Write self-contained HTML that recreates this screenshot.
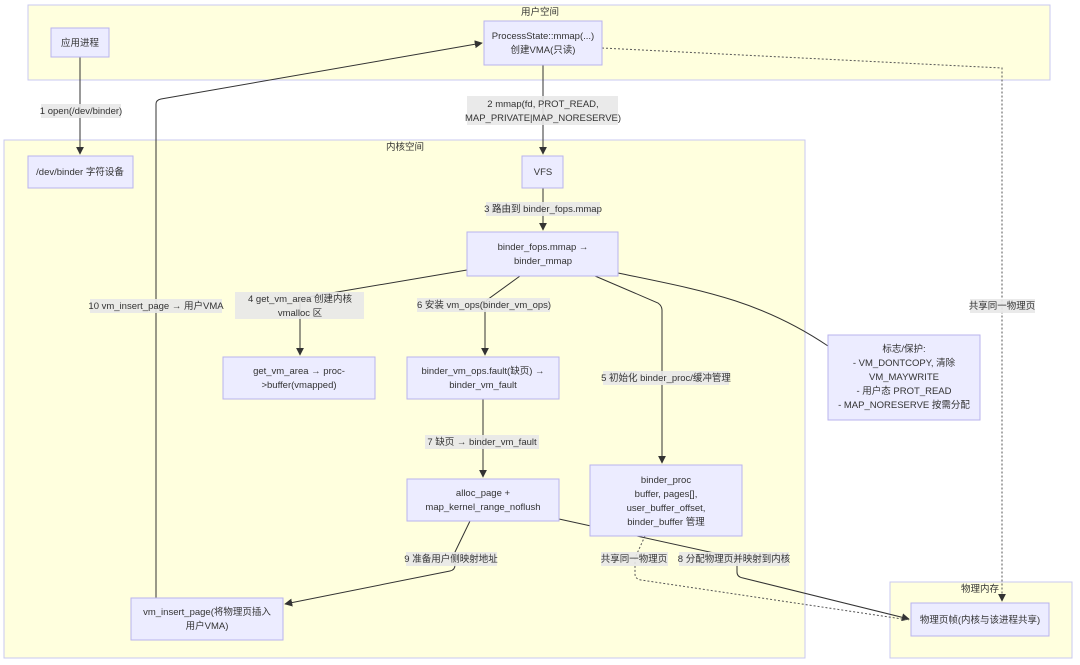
<!DOCTYPE html>
<html><head><meta charset="utf-8"><style>
html,body{margin:0;padding:0;background:#fff;}
svg{display:block;}
text{font-family:"Liberation Sans","Noto Sans CJK SC",sans-serif;font-size:9.5px;fill:#333;text-anchor:middle;}
.c{fill:#ffffde;stroke:#c9c9f0;stroke-width:1;}
.n{fill:#ececff;stroke:#b9b3ee;stroke-width:1;}
.e{fill:none;stroke:#333;stroke-width:1;}
.d{fill:none;stroke:#555;stroke-width:1;stroke-dasharray:2,2;}
.l{fill:#e8e8e8;opacity:0.9;}
</style></head><body>
<svg width="1080" height="665" viewBox="0 0 1080 665" xmlns="http://www.w3.org/2000/svg">
<defs><marker id="a" viewBox="0 0 10 10" refX="9" refY="5" markerWidth="8" markerHeight="8" orient="auto"><path d="M0,0L10,5L0,10z" fill="#333"/></marker></defs>
<!-- clusters -->
<rect class="c" x="28" y="5" width="1022" height="75"/>
<text x="540" y="15">用户空间</text>
<rect class="c" x="4" y="140" width="801" height="518"/>
<text x="405" y="150">内核空间</text>
<rect class="c" x="890" y="582" width="182" height="76"/>
<text x="980" y="592">物理内存</text>

<!-- edges -->
<path class="e" d="M80,57 L80,154" marker-end="url(#a)"/>
<path class="e" d="M543,65 L543,154" marker-end="url(#a)"/>
<path class="e" d="M543,188 L543,230" marker-end="url(#a)"/>
<path class="e" d="M467,270 L302,298 Q300,299 300,302 L300,355" marker-end="url(#a)"/>
<path class="e" d="M520,276 L487,300 L485,304 L485,355" marker-end="url(#a)"/>
<path class="e" d="M483,399 L483,477" marker-end="url(#a)"/>
<path class="e" d="M595,276 L658,303 Q662,306 662,310 L662,463" marker-end="url(#a)"/>
<path class="e" d="M618,273 C700,290 760,300 828,346"/>
<path class="e" d="M470,521 L455,552 L455,565 Q455,570 450,571 L285,604" marker-end="url(#a)"/>
<path class="e" d="M156,598 Q156,590 156,580 L156,104 Q156,100 161,99 L482,43" marker-end="url(#a)"/>
<path class="e" d="M559,519 L737,558 L737,572 Q737,577 743,578 L909,619" marker-end="url(#a)"/>
<path class="d" d="M645,536 L635,558 L635,574 Q635,579 641,580 L909,620"/>
<path class="d" d="M602,48 L1002,68 L1002,601" marker-end="url(#a)"/>

<!-- edge labels -->
<rect class="l" x="41" y="104" width="80" height="14"/><text x="81" y="114">1 open(/dev/binder)</text>
<rect class="l" x="467" y="96" width="151" height="29"/><text x="543" y="107">2 mmap(fd, PROT_READ,</text><text x="543" y="121">MAP_PRIVATE|MAP_NORESERVE)</text>
<rect class="l" x="486" y="202" width="114" height="14"/><text x="543" y="212">3 路由到 binder_fops.mmap</text>
<rect class="l" x="235" y="292" width="129" height="27"/><text x="300" y="302">4 get_vm_area 创建内核</text><text x="300" y="316">vmalloc 区</text>
<rect class="l" x="417" y="298" width="133" height="14"/><text x="484" y="308">6 安装 vm_ops(binder_vm_ops)</text>
<rect class="l" x="603" y="371" width="126" height="14"/><text x="666" y="381">5 初始化 binder_proc/缓冲管理</text>
<rect class="l" x="90" y="299" width="132" height="14"/><text x="156" y="309">10 vm_insert_page → 用户VMA</text>
<rect class="l" x="425" y="435" width="114" height="14"/><text x="482" y="445">7 缺页 → binder_vm_fault</text>
<rect class="l" x="406" y="552" width="91" height="14"/><text x="451" y="562">9 准备用户侧映射地址</text>
<rect class="l" x="601" y="552" width="67" height="14"/><text x="634" y="562">共享同一物理页</text>
<rect class="l" x="679" y="552" width="110" height="14"/><text x="734" y="562">8 分配物理页并映射到内核</text>
<rect class="l" x="970" y="299" width="65" height="14"/><text x="1002" y="309">共享同一物理页</text>

<!-- nodes -->
<rect class="n" x="51" y="28" width="58" height="29"/><text x="80" y="46">应用进程</text>
<rect class="n" x="484" y="21" width="118" height="44"/><text x="543" y="39">ProcessState::mmap(...)</text><text x="543" y="53">创建VMA(只读)</text>
<rect class="n" x="28" y="156" width="105" height="32"/><text x="80" y="175">/dev/binder 字符设备</text>
<rect class="n" x="522" y="156" width="41" height="32"/><text x="543" y="175">VFS</text>
<rect class="n" x="467" y="232" width="151" height="44"/><text x="543" y="250">binder_fops.mmap →</text><text x="543" y="264">binder_mmap</text>
<rect class="n" x="223" y="357" width="152" height="42"/><text x="299" y="374">get_vm_area → proc-</text><text x="299" y="388">&gt;buffer(vmapped)</text>
<rect class="n" x="407" y="357" width="152" height="42"/><text x="483" y="374">binder_vm_ops.fault(缺页) →</text><text x="483" y="388">binder_vm_fault</text>
<rect class="n" x="407" y="479" width="152" height="42"/><text x="483" y="496">alloc_page +</text><text x="483" y="510">map_kernel_range_noflush</text>
<rect class="n" x="590" y="465" width="152" height="71"/><text x="666" y="483">binder_proc</text><text x="666" y="497">buffer, pages[],</text><text x="666" y="511">user_buffer_offset,</text><text x="666" y="525">binder_buffer 管理</text>
<rect class="n" x="828" y="335" width="152" height="85"/><text x="904" y="352">标志/保护:</text><text x="904" y="366">- VM_DONTCOPY, 清除</text><text x="904" y="380">VM_MAYWRITE</text><text x="904" y="394">- 用户态 PROT_READ</text><text x="904" y="408">- MAP_NORESERVE 按需分配</text>
<rect class="n" x="131" y="598" width="152" height="42"/><text x="207" y="615">vm_insert_page(将物理页插入</text><text x="207" y="629">用户VMA)</text>
<rect class="n" x="911" y="603" width="138" height="33"/><text x="980" y="623">物理页帧(内核与该进程共享)</text>
</svg>
</body></html>
